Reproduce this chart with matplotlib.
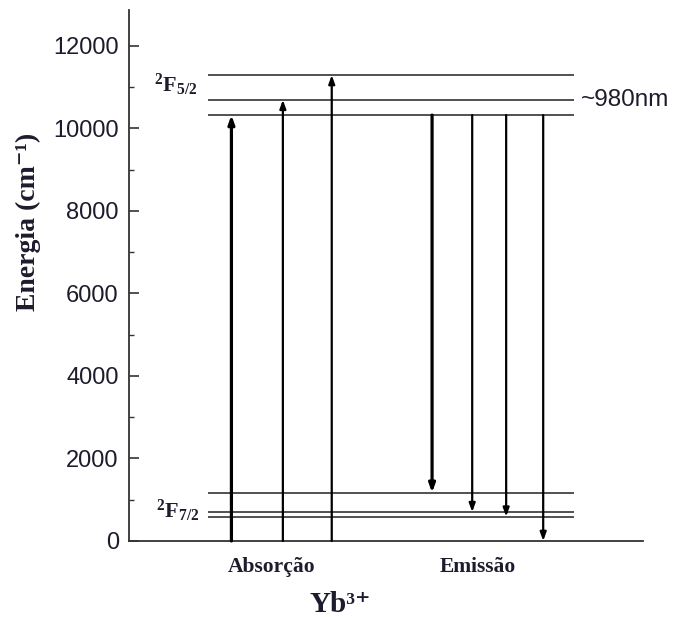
import matplotlib
matplotlib.use("Agg")
import matplotlib.pyplot as plt
from matplotlib.ticker import MultipleLocator

plt.rcParams['mathtext.fontset'] = 'custom'
plt.rcParams['mathtext.rm'] = 'Liberation Serif:bold'
plt.rcParams['mathtext.it'] = 'Liberation Serif:bold'
plt.rcParams['mathtext.bf'] = 'Liberation Serif:bold'

# Energy levels (cm^-1)
upper_levels = [10320, 10690, 11290]   # 2F5/2 manifold
lower_levels = [590, 700, 1170]        # 2F7/2 manifold

# Absorption transitions
abs_x = [2.0, 3.0, 3.95]
abs_start = [0, 0, 0]
abs_end = [10320, 10690, 11290]
abs_lw = [2.3, 1.6, 1.6]

# Emission transitions
em_x = [5.9, 6.68, 7.34, 8.06]
em_start = [10320, 10320, 10320, 10320]
em_end = [1170, 700, 590, 0]
em_lw = [2.3, 1.6, 1.6, 1.6]

group_labels = ["Absorção", "Emissão"]
group_x = [2.79, 6.79]

yticks = [0, 2000, 4000, 6000, 8000, 10000, 12000]

fig = plt.figure(figsize=(6.8, 6.17), dpi=100)
ax = fig.add_axes([0.189, 0.1232, 0.9456 - 0.189, 0.9838 - 0.1232])
ax.set_xlim(0, 10)
ax.set_ylim(0, 12866)

for s in ['top', 'right']:
    ax.spines[s].set_visible(False)
for s in ['left', 'bottom']:
    ax.spines[s].set_linewidth(1.3)
    ax.spines[s].set_color('#333333')

ax.set_xticks([])
ax.set_yticks(yticks)
ax.yaxis.set_minor_locator(MultipleLocator(1000))
ax.tick_params(axis='y', which='major', direction='in', length=7, width=1.2,
               labelsize=17, colors='#333333', labelcolor='#1c1c2c', pad=7)
ax.tick_params(axis='y', which='minor', direction='in', length=3.6, width=1.0,
               colors='#333333')
for lab in ax.get_yticklabels():
    lab.set_family('Liberation Sans')

lev_xmin, lev_xmax = 1.55, 8.65
for lv in upper_levels + lower_levels:
    ax.hlines(lv, lev_xmin, lev_xmax, color='#333333', lw=1.2)

def arrow(x, y0, y1, lw):
    ax.annotate('', xy=(x, y1), xytext=(x, y0),
                arrowprops=dict(arrowstyle='-|>,head_length=0.5,head_width=0.18',
                                lw=lw, color='black', shrinkA=0, shrinkB=0))

for x, y0, y1, lw in zip(abs_x, abs_start, abs_end, abs_lw):
    arrow(x, y0, y1, lw)
for x, y0, y1, lw in zip(em_x, em_start, em_end, em_lw):
    arrow(x, y0, y1, lw)

serif_b = dict(fontweight='bold', color='#1c1c2c')
serif_fam = ['Liberation Serif', 'DejaVu Serif']

ax.text(1.33, 11050, r'$^{2}$F$_{5/2}$', ha='right', va='center', fontsize=16,
        family='Liberation Serif', **serif_b)
ax.text(1.38, 730, r'$^{2}$F$_{7/2}$', ha='right', va='center', fontsize=16,
        family='Liberation Serif', **serif_b)

ax.text(8.8, 10690, '~980nm', ha='left', va='center', fontsize=17.5,
        family='Liberation Sans', color='#1c1c2c')

for lab, gx in zip(group_labels, group_x):
    ax.text(gx, -620, lab, ha='center', va='center', fontsize=15.5,
            family='Liberation Serif', **serif_b)

fig.text(340 / 680, 1 - 605 / 617, 'Yb³⁺', ha='center', va='center',
         fontsize=21, family=serif_fam, **serif_b)
fig.text(28 / 680, 1 - 222 / 617, 'Energia (cm⁻¹)', ha='center', va='center',
         rotation=90, fontsize=20, family=serif_fam, **serif_b)

fig.savefig('out.png', dpi=100)
